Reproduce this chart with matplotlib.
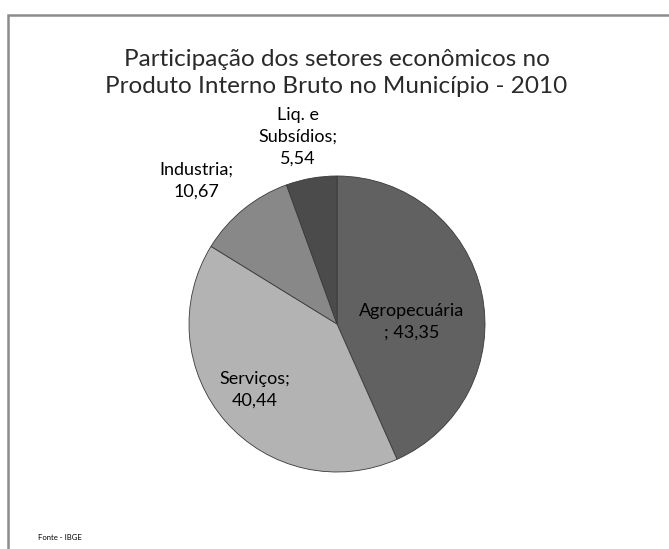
import matplotlib.pyplot as plt
from matplotlib.patches import Rectangle

plt.rcParams['font.family'] = ['Lato', 'DejaVu Sans']

setores = ['Agropecuária', 'Serviços', 'Industria', 'Liq. e Subsídios']
valores = [43.35, 40.44, 10.67, 5.54]
rotulos = ['Agropecuária\n; 43,35', 'Serviços;\n40,44', 'Industria;\n10,67', 'Liq. e\nSubsídios;\n5,54']
cores = ['#616161', '#b3b3b3', '#888888', '#4b4b4b']

W, H = 669, 549
fig = plt.figure(figsize=(W / 100, H / 100), dpi=100)

# moldura cinza (só esquerda e topo aparecem)
fig.patches.append(Rectangle((8 / W, -0.1), 1.2, (H - 15) / H + 0.1, transform=fig.transFigure,
                             fill=False, edgecolor='#8c8c8c', linewidth=1.8))

cx, cy, r = 337, 324, 148
ax = fig.add_axes([(cx - r) / W, (H - cy - r) / H, 2 * r / W, 2 * r / H])
ax.pie(valores, colors=cores, startangle=90, counterclock=False,
       wedgeprops=dict(edgecolor='#3a3a3a', linewidth=0.6))
ax.set_xlim(-1, 1)
ax.set_ylim(-1, 1)
ax.axis('off')

# posições dos rótulos em pixels da imagem
pos = [(412, 322), (255, 390), (196, 181), (298, 137)]
for txt, (px, py) in zip(rotulos, pos):
    ax.text((px - cx) / r, (cy - py) / r, txt, ha='center', va='center',
            fontsize=13, color='black', linespacing=1.45, clip_on=False)

fig.text(0.503, 1 - 73 / H, 'Participação dos setores econômicos no\nProduto Interno Bruto no Município - 2010',
         ha='center', va='center', fontsize=17.5, color='#2a2a2a', linespacing=1.3)

fig.text(38 / W, 1 - 537 / H, 'Fonte - IBGE', ha='left', va='center', fontsize=5.5)

fig.savefig('out.png', dpi=100)
